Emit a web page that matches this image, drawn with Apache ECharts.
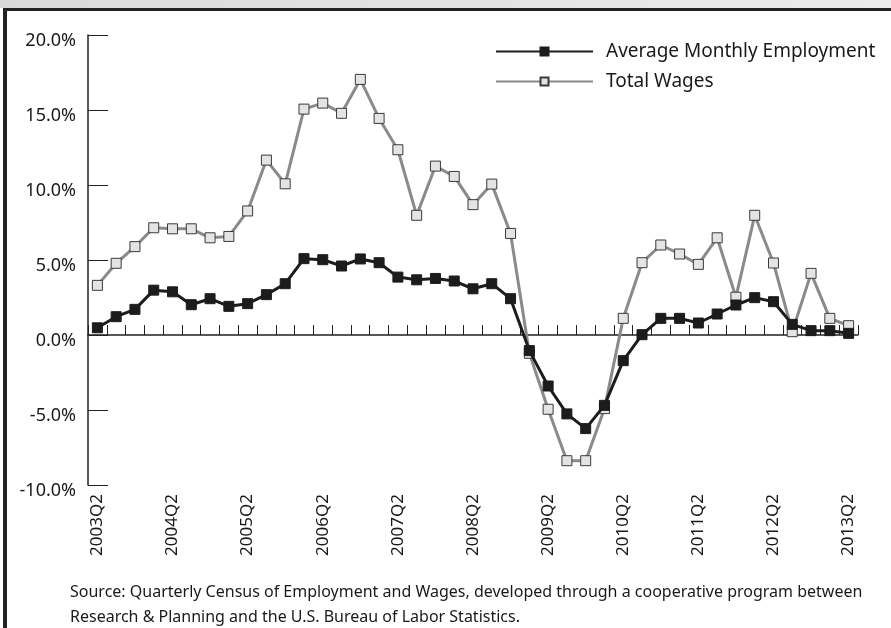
<!DOCTYPE html>
<html>
<head>
<meta charset="utf-8">
<script src="https://cdn.jsdelivr.net/npm/echarts@6/dist/echarts.min.js"></script>
<style>
  html, body { margin: 0; padding: 0; background: #fff; }
  #wrap { position: relative; width: 891px; height: 628px; overflow: hidden; }
  #topbar { position: absolute; left: 0; top: 0; width: 891px; height: 8px;
            background: linear-gradient(to right, #d9d9d9, #ececec); }
  #frame { position: absolute; left: 3px; top: 8px; width: 900px; height: 640px;
           border-top: 3px solid #222; border-left: 4px solid #222; }
  #main { position: absolute; left: 0; top: 0; width: 891px; height: 628px; }
</style>
</head>
<body>
<div id="wrap">
  <div id="topbar"></div>
  <div id="frame"></div>
  <div id="main"></div>
</div>
<script>
// quarters shown on the x axis
const quarters = [
  '2003Q2','2003Q3','2003Q4','2004Q1','2004Q2','2004Q3','2004Q4','2005Q1',
  '2005Q2','2005Q3','2005Q4','2006Q1','2006Q2','2006Q3','2006Q4','2007Q1',
  '2007Q2','2007Q3','2007Q4','2008Q1','2008Q2','2008Q3','2008Q4','2009Q1',
  '2009Q2','2009Q3','2009Q4','2010Q1','2010Q2','2010Q3','2010Q4','2011Q1',
  '2011Q2','2011Q3','2011Q4','2012Q1','2012Q2','2012Q3','2012Q4','2013Q1',
  '2013Q2'
];

// percent change over the year
const employment = [
  0.48, 1.22, 1.71, 2.99, 2.88, 2.02, 2.42, 1.91, 2.09, 2.69, 3.42,
  5.09, 5.02, 4.60, 5.07, 4.82, 3.86, 3.68, 3.77, 3.60, 3.08, 3.42,
  2.42, -1.04, -3.40, -5.26, -6.24, -4.69, -1.71, 0.02, 1.11, 1.11,
  0.80, 1.40, 2.00, 2.49, 2.22, 0.71, 0.29, 0.29, 0.11
];
const wages = [
  3.31, 4.78, 5.89, 7.15, 7.08, 7.08, 6.48, 6.57, 8.27, 11.66, 10.08,
  15.06, 15.46, 14.78, 17.04, 14.44, 12.35, 7.98, 11.26, 10.57, 8.69, 10.06,
  6.77, -1.22, -4.95, -8.38, -8.38, -4.91, 1.11, 4.82, 6.00, 5.40,
  4.71, 6.48, 2.52, 7.98, 4.80, 0.22, 4.11, 1.11, 0.62
];

const yTicks = [-10, -5, 0, 5, 10, 15, 20];

const sourceLines = [
  'Source: Quarterly Census of Employment and Wages, developed through a cooperative program between',
  'Research & Planning and the U.S. Bureau of Labor Statistics.'
];

const font = 'Noto Sans';
const ink = '#1a1a1a';

const chart = echarts.init(document.getElementById('main'));

chart.setOption({
  animation: false,
  textStyle: { fontFamily: font, color: ink },
  grid: { left: 88, right: 33, top: 35, bottom: 143 },
  legend: {
    orient: 'vertical',
    left: 490,
    top: 37,
    itemWidth: 97,
    itemHeight: 10,
    itemGap: 11,
    data: ['Average Monthly Employment', 'Total Wages'],
    textStyle: { fontFamily: font, fontSize: 19, color: ink, padding: [0, 0, 0, 8] }
  },
  xAxis: [
    {
      // zero line with inward ticks
      type: 'category',
      data: quarters,
      boundaryGap: true,
      axisLine: { show: true, onZero: true, lineStyle: { color: '#222', width: 1.5 } },
      axisTick: { show: true, inside: true, length: 10, interval: 0, lineStyle: { color: '#222', width: 1 } },
      axisLabel: { show: false },
      splitLine: { show: false }
    },
    {
      // labels at the bottom
      type: 'category',
      data: quarters,
      position: 'bottom',
      boundaryGap: true,
      axisLine: { show: false, onZero: false },
      axisTick: { show: false },
      axisLabel: {
        interval: 3,
        rotate: 90,
        margin: 9,
        fontFamily: font,
        fontSize: 17,
        color: ink
      }
    }
  ],
  yAxis: {
    type: 'value',
    min: yTicks[0],
    max: yTicks[yTicks.length - 1],
    interval: 5,
    axisLine: { show: true, lineStyle: { color: '#222', width: 1.5 } },
    axisTick: { show: true, inside: true, length: 20, lineStyle: { color: '#222', width: 1 } },
    splitLine: { show: false },
    axisLabel: {
      margin: 12,
      fontFamily: font,
      fontSize: 18,
      color: ink,
      verticalAlign: 'top',
      lineHeight: 12,
      formatter: v => v.toFixed(1) + '%'
    }
  },
  series: [
    {
      name: 'Total Wages',
      type: 'line',
      data: wages,
      symbol: 'rect',
      symbolSize: 10,
      lineStyle: { color: '#8a8a8a', width: 3 },
      itemStyle: { color: '#e4e4e4', borderColor: '#3a3a3a', borderWidth: 1 },
      z: 2
    },
    {
      name: 'Average Monthly Employment',
      type: 'line',
      data: employment,
      symbol: 'rect',
      symbolSize: 10,
      lineStyle: { color: '#1c1c1c', width: 3 },
      itemStyle: { color: '#1c1c1c', borderColor: '#1c1c1c', borderWidth: 1 },
      z: 3
    }
  ],
  graphic: sourceLines.map((t, i) => ({
    type: 'text',
    left: 70,
    top: 584 + i * 25,
    style: { text: t, fontFamily: font, fontSize: 16, fill: ink }
  }))
});
</script>
</body>
</html>
